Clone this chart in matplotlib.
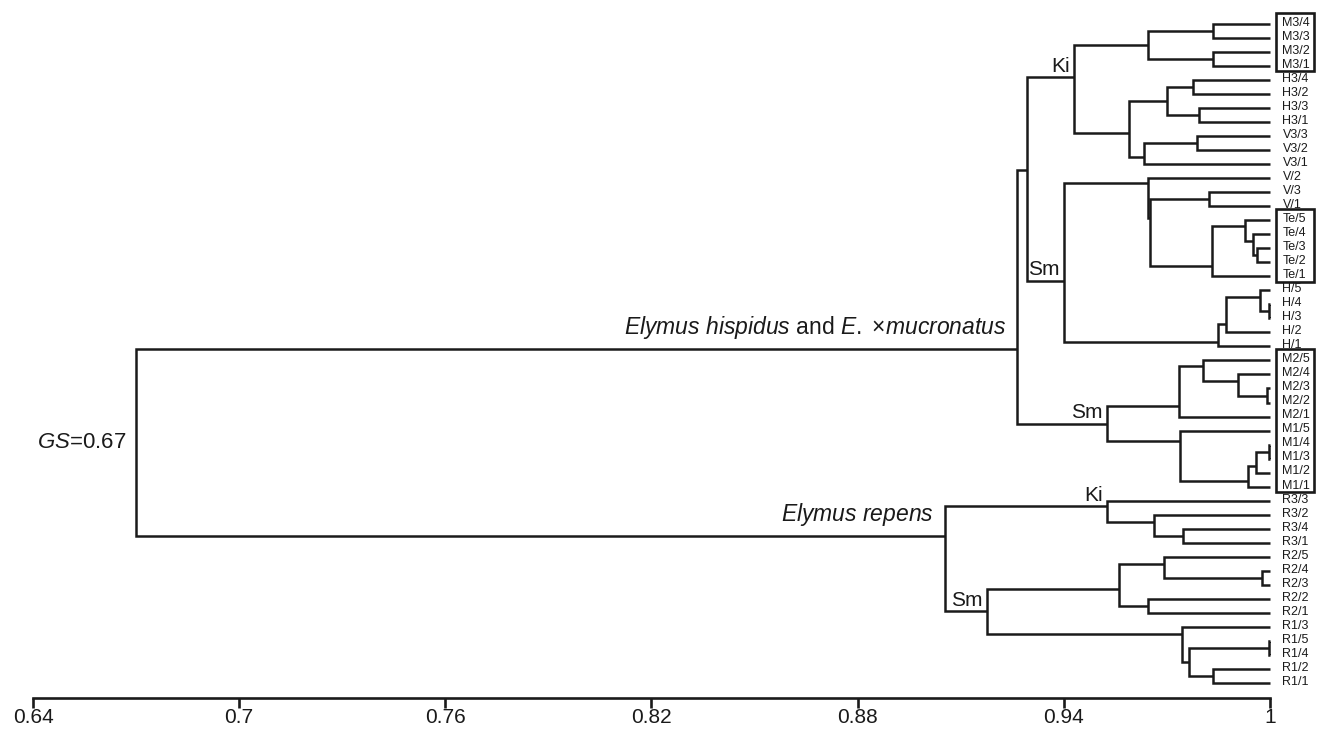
import matplotlib
matplotlib.use("Agg")
import matplotlib.pyplot as plt
from matplotlib.patches import Rectangle

plt.rcParams["font.family"] = ["Liberation Sans", "DejaVu Sans"]
plt.rcParams["mathtext.fontset"] = "custom"
plt.rcParams["mathtext.rm"] = "Liberation Sans"
plt.rcParams["mathtext.it"] = "Liberation Sans:italic"

# --- leaves, top to bottom ---
leaves = ["M3/4", "M3/3", "M3/2", "M3/1", "H3/4", "H3/2", "H3/3", "H3/1",
          "V3/3", "V3/2", "V3/1", "V/2", "V/3", "V/1",
          "Te/5", "Te/4", "Te/3", "Te/2", "Te/1",
          "H/5", "H/4", "H/3", "H/2", "H/1",
          "M2/5", "M2/4", "M2/3", "M2/2", "M2/1",
          "M1/5", "M1/4", "M1/3", "M1/2", "M1/1",
          "R3/3", "R3/2", "R3/4", "R3/1",
          "R2/5", "R2/4", "R2/3", "R2/2", "R2/1",
          "R1/3", "R1/5", "R1/4", "R1/2", "R1/1"]

# --- merges: node id, upper child, lower child, similarity ---
merges = [
    ("m3a", "M3/4", "M3/3", 0.9834),
    ("m3b", "M3/2", "M3/1", 0.9834),
    ("m3", "m3a", "m3b", 0.9645),
    ("h3a", "H3/4", "H3/2", 0.9776),
    ("h3b", "H3/3", "H3/1", 0.9793),
    ("h3", "h3a", "h3b", 0.9700),
    ("v3a", "V3/3", "V3/2", 0.9788),
    ("v3", "v3a", "V3/1", 0.9633),
    ("h3v3", "h3", "v3", 0.9590),
    ("ki1", "m3", "h3v3", 0.9430),
    ("va", "V/3", "V/1", 0.9823),
    ("tea", "Te/3", "Te/2", 0.9962),
    ("teb", "Te/4", "tea", 0.9951),
    ("tec", "Te/5", "teb", 0.9927),
    ("te", "tec", "Te/1", 0.9831),
    ("vte", "va", "te", 0.9651),
    ("v", "V/2", "vte", 0.9645),
    ("ha", "H/4", "H/3", 0.9998),
    ("hb", "H/5", "ha", 0.9971),
    ("hc", "hb", "H/2", 0.9872),
    ("h", "hc", "H/1", 0.9849),
    ("sm1", "v", "h", 0.9401),
    ("kism", "ki1", "sm1", 0.9293),
    ("m2a", "M2/3", "M2/2", 0.9991),
    ("m2b", "M2/4", "m2a", 0.9907),
    ("m2c", "M2/5", "m2b", 0.9805),
    ("m2", "m2c", "M2/1", 0.9735),
    ("m1a", "M1/4", "M1/3", 0.9998),
    ("m1b", "m1a", "M1/2", 0.9959),
    ("m1c", "m1b", "M1/1", 0.9936),
    ("m1", "M1/5", "m1c", 0.9738),
    ("sm2", "m2", "m1", 0.9526),
    ("hisp", "kism", "sm2", 0.9264),
    ("r3a", "R3/4", "R3/1", 0.9747),
    ("r3b", "R3/2", "r3a", 0.9662),
    ("ki2", "R3/3", "r3b", 0.9526),
    ("r2a", "R2/4", "R2/3", 0.9977),
    ("r2b", "R2/5", "r2a", 0.9692),
    ("r2c", "R2/2", "R2/1", 0.9645),
    ("r2", "r2b", "r2c", 0.9561),
    ("r1a", "R1/5", "R1/4", 0.9998),
    ("r1b", "R1/2", "R1/1", 0.9834),
    ("r1c", "r1a", "r1b", 0.9764),
    ("r1", "R1/3", "r1c", 0.9744),
    ("sm3", "r2", "r1", 0.9176),
    ("rep", "ki2", "sm3", 0.9054),
    ("root", "hisp", "rep", 0.6700),
]

boxed_groups = [("M3/4", "M3/1"), ("Te/5", "Te/1"), ("M2/5", "M1/1")]
clade_tags = {"ki1": "Ki", "sm1": "Sm", "sm2": "Sm", "ki2": "Ki", "sm3": "Sm"}
species_tags = {"hisp": r"$\mathit{Elymus\ hispidus}$ and $\mathit{E.}$ ×$\mathit{mucronatus}$",
                "rep": r"$\mathit{Elymus\ repens}$"}
root_tag = r"$\mathit{GS}$=0.67"
xticks = [0.64, 0.70, 0.76, 0.82, 0.88, 0.94, 1.0]
xtick_labels = ["0.64", "0.7", "0.76", "0.82", "0.88", "0.94", "1"]

ink = "#1a1a1a"
lw = 1.8

fig = plt.figure(figsize=(13.18, 7.30), dpi=100)
ax = fig.add_axes([0, 0, 1, 1])
ax.set_xlim(0.64 - 33 / 3436, 1.0 + 48 / 3436)
ax.set_ylim(50.36, -1.712)

# leaf positions: (x, y, number of leaves)
pos = {name: (1.0, i, 1) for i, name in enumerate(leaves)}
span = {}
for nid, a, b, s in merges:
    xa, ya, na = pos[a]
    xb, yb, nb = pos[b]
    ax.plot([xa, s, s, xb], [ya, ya, yb, yb], color=ink, lw=lw,
            solid_joinstyle="miter", solid_capstyle="butt")
    # attachment point leans towards the smaller child, as in the original
    pos[nid] = (s, (nb * ya + na * yb) / (na + nb), na + nb)
    span[nid] = (ya, yb)

for i, name in enumerate(leaves):
    ax.annotate(name, (1.0, i), xytext=(9, 0.8), textcoords="offset points",
                ha="left", va="center", fontsize=9, color=ink)

for first, last in boxed_groups:
    i0, i1 = leaves.index(first), leaves.index(last)
    ax.add_patch(Rectangle((1.0 + 6 / 3436, i0 - 0.8), 38 / 3436, i1 - i0 + 1.18,
                           fill=False, ec=ink, lw=1.9))

for nid, tag in clade_tags.items():
    x, y, _ = pos[nid]
    ax.annotate(tag, (x, y), xytext=(-3, 1), textcoords="offset points",
                ha="right", va="bottom", fontsize=15, color=ink)

for nid, tag in species_tags.items():
    x, y, _ = pos[nid]
    ax.annotate(tag, (x, y), xytext=(-8, 6), textcoords="offset points",
                ha="right", va="bottom", fontsize=16.5, color=ink)

rx = pos["root"][0]
ax.annotate(root_tag, (rx, sum(span["root"]) / 2), xytext=(-7, 0),
            textcoords="offset points", ha="right", va="center",
            fontsize=16, color=ink)

for side in ["left", "right", "top"]:
    ax.spines[side].set_visible(False)
ax.spines["bottom"].set_position(("data", 48.1))
ax.spines["bottom"].set_bounds(0.64, 1.0)
ax.spines["bottom"].set_linewidth(1.9)
ax.spines["bottom"].set_color(ink)
ax.set_xticks(xticks)
ax.set_xticklabels(xtick_labels)
ax.set_yticks([])
ax.tick_params(axis="x", direction="out", length=7, width=1.9, color=ink,
               labelsize=15, labelcolor=ink, pad=0)
ax.patch.set_visible(False)

fig.savefig("out.png", dpi=100)
